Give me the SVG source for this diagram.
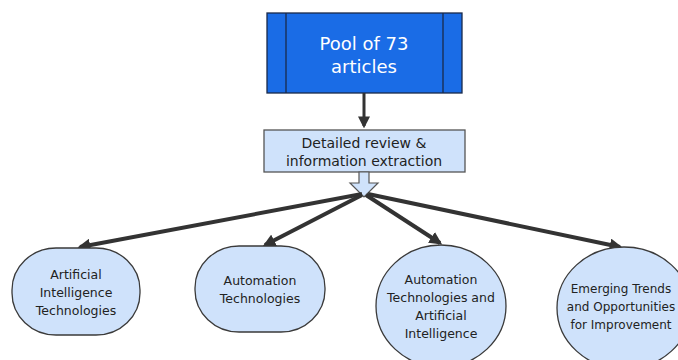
<svg xmlns="http://www.w3.org/2000/svg" width="678" height="360" viewBox="0 0 678 360">
<style>
.t{font-family:"DejaVu Sans","Liberation Sans",sans-serif;text-anchor:middle;}
.n{fill:#cfe2fb;stroke:#3a3a3a;stroke-width:1.3;}
.nt{font-size:12.5px;fill:#222;}
.c{stroke:#333;stroke-width:4;fill:none;marker-end:url(#ah);}
</style>
<defs>
<marker id="ah" viewBox="0 0 10 10" refX="8" refY="5" markerWidth="3.2" markerHeight="3.2" orient="auto" markerUnits="strokeWidth">
<path d="M0,0 L10,5 L0,10 z" fill="#333"/>
</marker>
<marker id="ah2" viewBox="0 0 10 10" refX="8" refY="5" markerWidth="4" markerHeight="4" orient="auto" markerUnits="strokeWidth">
<path d="M0,0 L10,5 L0,10 z" fill="#333"/>
</marker>
</defs>
<rect width="678" height="360" fill="#fff"/>
<g id="pool">
<rect x="267" y="13" width="195" height="80" fill="#1a6ce6" stroke="#1a2a4a" stroke-width="1.3"/>
<line x1="286" y1="13" x2="286" y2="93" stroke="#1a2a4a" stroke-width="1.3"/>
<line x1="443" y1="13" x2="443" y2="93" stroke="#1a2a4a" stroke-width="1.3"/>
<text class="t" x="364" y="50" font-size="18" fill="#fff">Pool of 73</text>
<text class="t" x="364" y="73" font-size="18" fill="#fff">articles</text>
</g>
<g id="review">
<rect x="264" y="130" width="201" height="42" fill="#cfe2fb" stroke="#555" stroke-width="1.3"/>
<text class="t" x="364" y="148" font-size="14" fill="#222">Detailed review &amp;</text>
<text class="t" x="364" y="166" font-size="14" fill="#222">information extraction</text>
<path d="M359,172 L369,172 L369,183 L378,183 L364,197 L350,183 L359,183 Z" fill="#cfe2fb" stroke="#555" stroke-width="1.2"/>
</g>
<g id="connectors">
<line x1="364" y1="93" x2="364" y2="126" stroke="#333" stroke-width="3" marker-end="url(#ah2)"/>
<line class="c" x1="362" y1="194" x2="80" y2="247"/>
<line class="c" x1="362" y1="195" x2="265" y2="245"/>
<line class="c" x1="366" y1="195" x2="440" y2="243"/>
<line class="c" x1="368" y1="194" x2="620" y2="247"/>
</g>
<g id="n1">
<rect class="n" x="12" y="248" width="128" height="87" rx="44" ry="42"/>
<text class="t nt" x="76" y="279">Artificial</text>
<text class="t nt" x="76" y="297">Intelligence</text>
<text class="t nt" x="76" y="315">Technologies</text>
</g>
<g id="n2">
<rect class="n" x="195" y="246" width="130" height="86" rx="44" ry="42"/>
<text class="t nt" x="260" y="285">Automation</text>
<text class="t nt" x="260" y="303">Technologies</text>
</g>
<g id="n3">
<ellipse class="n" cx="441" cy="306" rx="65" ry="61"/>
<text class="t nt" x="441" y="284">Automation</text>
<text class="t nt" x="441" y="302">Technologies and</text>
<text class="t nt" x="441" y="320">Artificial</text>
<text class="t nt" x="441" y="338">Intelligence</text>
</g>
<g id="n4">
<ellipse class="n" cx="624" cy="308" rx="67" ry="61"/>
<text class="t" x="621" y="293" font-size="12" fill="#222">Emerging Trends</text>
<text class="t" x="621" y="311" font-size="12" fill="#222">and Opportunities</text>
<text class="t" x="621" y="329" font-size="12" fill="#222">for Improvement</text>
</g>
</svg>
